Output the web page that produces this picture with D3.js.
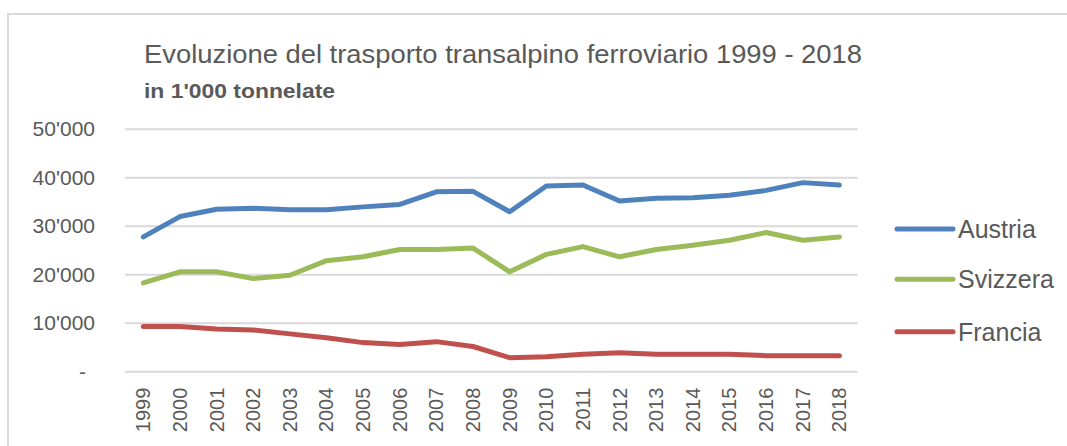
<!DOCTYPE html>
<html>
<head>
<meta charset="utf-8">
<script src="https://cdn.jsdelivr.net/npm/d3@7"></script>
<style>
  html, body { margin: 0; padding: 0; background: #fff; }
  svg { display: block; font-family: "Liberation Sans", Arial, sans-serif; }
</style>
</head>
<body>
<svg id="chart" width="1067" height="446"></svg>
<script>
const years = ["1999","2000","2001","2002","2003","2004","2005","2006","2007","2008",
               "2009","2010","2011","2012","2013","2014","2015","2016","2017","2018"];
const austria  = [27800,32000,33500,33700,33400,33400,34000,34500,37100,37200,
                  33000,38300,38500,35200,35800,35900,36400,37400,39000,38500];
const svizzera = [18300,20600,20600,19200,19900,22900,23700,25200,25200,25500,
                  20600,24200,25800,23700,25200,26100,27100,28700,27100,27800];
const francia  = [9300,9300,8800,8600,7800,7000,6000,5600,6200,5200,
                  2900,3100,3600,3900,3600,3600,3600,3300,3300,3300];
const yTicks = [0,10000,20000,30000,40000,50000];
const yTickLabels = ["-","10'000","20'000","30'000","40'000","50'000"];
const seriesNames = ["Austria","Svizzera","Francia"];
const seriesColors = ["#4f81bd","#9bbb59","#c0504d"];
const titleText = "Evoluzione del trasporto transalpino ferroviario 1999 - 2018";
const subtitleText = "in 1'000 tonnelate";

const series = [austria, svizzera, francia];
const svg = d3.select("#chart");

// chart frame
svg.append("rect").attr("x", 8).attr("y", 14).attr("width", 1100).attr("height", 500)
  .attr("fill", "none").attr("stroke", "#d9d9d9").attr("stroke-width", 2);

const x = d3.scaleBand().domain(years).range([125, 857.7]);
const y = d3.scaleLinear().domain([0, 50000]).range([371.7, 129.3]);

// gridlines
svg.append("g").selectAll("line").data(yTicks).join("line")
  .attr("x1", 125).attr("x2", 857.7)
  .attr("y1", d => y(d)).attr("y2", d => y(d))
  .attr("stroke", "#d9d9d9").attr("stroke-width", 2);

// y axis
const yAxis = d3.axisLeft(y).tickValues(yTicks)
  .tickFormat((d, i) => yTickLabels[i]).tickSize(0).tickPadding(0);
const gy = svg.append("g").attr("transform", "translate(95,0)").call(yAxis);
gy.select(".domain").remove();
gy.selectAll("text").attr("fill", "#595959").style("font-size", "21px")
  .attr("dy", "0.3em")
  .attr("x", d => d === 0 ? -9 : 0);

// x axis
const xAxis = d3.axisBottom(x).tickSize(0).tickPadding(0);
const gx = svg.append("g").attr("transform", "translate(0,371.7)").call(xAxis);
gx.select(".domain").remove();
gx.selectAll("text").attr("fill", "#595959").style("font-size", "20px")
  .attr("text-anchor", "end")
  .attr("transform", "rotate(-90)")
  .attr("x", -16).attr("y", 0).attr("dy", "0.35em");

// lines
const line = d3.line().x((d, i) => x(years[i]) + x.bandwidth() / 2).y(d => y(d));
svg.append("g").selectAll("path").data(series).join("path")
  .attr("d", d => line(d))
  .attr("fill", "none")
  .attr("stroke", (d, i) => seriesColors[i])
  .attr("stroke-width", 5)
  .attr("stroke-linejoin", "round")
  .attr("stroke-linecap", "round");

// title
svg.append("text").attr("x", 144).attr("y", 63).text(titleText)
  .attr("fill", "#595959").style("font-size", "26px")
  .attr("textLength", 718).attr("lengthAdjust", "spacingAndGlyphs");
svg.append("text").attr("x", 144).attr("y", 98).text(subtitleText)
  .attr("fill", "#595959").style("font-size", "20px").style("font-weight", "bold")
  .attr("textLength", 191).attr("lengthAdjust", "spacingAndGlyphs");

// legend
const legendY = [229, 279.3, 331.7];
const lg = svg.append("g").selectAll("g").data(seriesNames).join("g")
  .attr("transform", (d, i) => `translate(0,${legendY[i]})`);
lg.append("line").attr("x1", 897).attr("x2", 953).attr("y1", 0).attr("y2", 0)
  .attr("stroke", (d, i) => seriesColors[i]).attr("stroke-width", 5)
  .attr("stroke-linecap", "round");
lg.append("text").attr("x", 958).attr("y", 0).attr("dy", "0.36em").text(d => d)
  .attr("fill", "#595959").style("font-size", "25px");
</script>
</body>
</html>
